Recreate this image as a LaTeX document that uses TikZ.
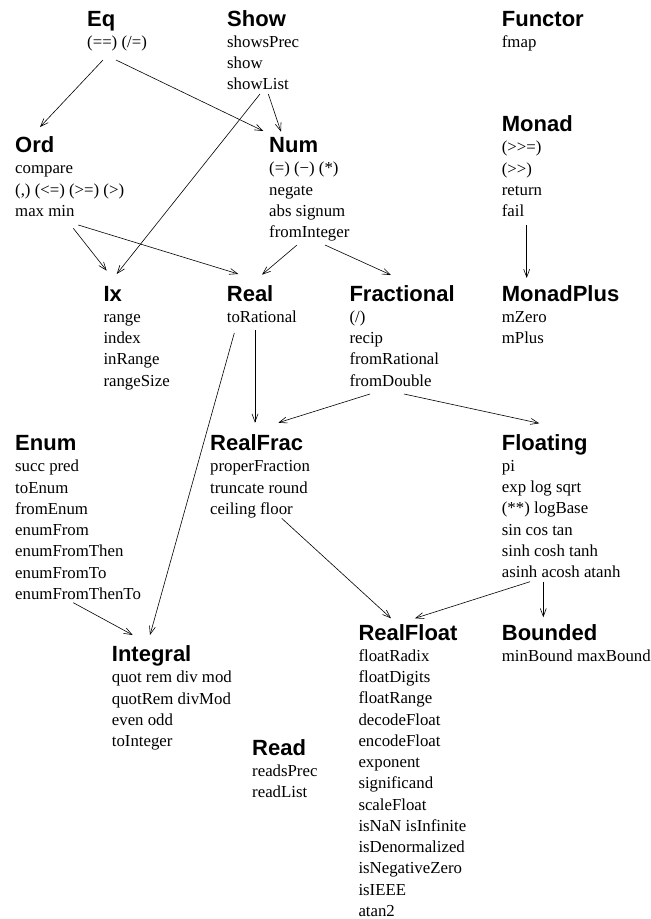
\documentclass[tikz,border=0pt]{standalone}
\usepackage{fontspec}
\setmainfont{Liberation Serif}[Ligatures=TeXOff]
\newfontfamily\clssans{Liberation Sans}
\usetikzlibrary{arrows.meta}

% class name on top, methods below, baseline = name line
\newcommand{\clsname}{\clssans\bfseries\fontsize{22}{22}\selectfont}
\newcommand{\hsclass}[2]{\vtop{\baselineskip=21.25pt\lineskiplimit=-20pt
  \halign{##\hfil\cr{\clsname #1}\cr #2\crcr}}}

\begin{document}
\begin{tikzpicture}[x=1pt,y=-1pt,
    cls/.style={anchor=base west,inner sep=0pt,
      font=\fontsize{16.8}{21.25}\selectfont},
    inh/.style={line width=0.6pt,-{Straight Barb[length=8pt,width=6pt]}}]
        \useasboundingbox (0,0) rectangle (651,919);

        % Классы
        \node[cls] (eq) at (87,26) {\hsclass{Eq}{(==) (/=)}};
        \node[cls] (show) at (227,26) {\hsclass{Show}{showsPrec\cr show\cr showList}};
        \node[cls] (functor) at (501.7,26) {\hsclass{Functor}{fmap}};
        \node[cls] (ord) at (15,152.7) {\hsclass{Ord}{compare\cr (,) (<=) (>=) (>)\cr max min}};
        \node[cls] (num) at (269,152.7) {\hsclass{Num}{(=) (−) (*)\cr negate\cr abs signum\cr fromInteger}};
        \node[cls] (monad) at (501.7,131.7) {\hsclass{Monad}{(>>=)\cr (>>)\cr return\cr fail}};
        \node[cls] (ix) at (103.3,301) {\hsclass{Ix}{range\cr index\cr inRange\cr rangeSize}};
        \node[cls] (real) at (226.7,301) {\hsclass{Real}{toRational}};
        \node[cls] (fractional) at (349.3,301) {\hsclass{Fractional}{(/)\cr recip\cr fromRational\cr fromDouble}};
        \node[cls] (monadplus) at (501.7,301) {\hsclass{MonadPlus}{mZero\cr mPlus}};
        \node[cls] (enum) at (15,450.7) {\hsclass{Enum}{succ pred\cr toEnum\cr fromEnum\cr enumFrom\cr
            enumFromThen\cr enumFromTo\cr enumFromThenTo}};
        \node[cls] (realfrac) at (210,450.7) {\hsclass{RealFrac}{properFraction\cr truncate round\cr ceiling floor}};
        \node[cls] (floating) at (501.7,450) {\hsclass{Floating}{pi\cr exp log sqrt\cr (**) logBase\cr
            sin cos tan\cr sinh cosh tanh\cr asinh acosh atanh}};
        \node[cls] (integral) at (111.7,661.7) {\hsclass{Integral}{quot rem div mod\cr quotRem divMod\cr
            even odd\cr toInteger}};
        \node[cls] (realfloat) at (358.3,640) {\hsclass{RealFloat}{floatRadix\cr floatDigits\cr floatRange\cr
            decodeFloat\cr encodeFloat\cr exponent\cr significand\cr scaleFloat\cr isNaN isInfinite\cr
            isDenormalized\cr isNegativeZero\cr isIEEE\cr atan2}};
        \node[cls] (bounded) at (501.7,640) {\hsclass{Bounded}{minBound maxBound}};
        \node[cls] (read) at (252,755) {\hsclass{Read}{readsPrec\cr readList}};

        % Наследование: откуда/сдвиг -> куда/сдвиг
        \foreach \src/\sx/\sy/\dst/\dx/\dy in {
            eq/16/34/ord/25/-25.7, eq/29/34/num/-5.7/-21.7,
            show/41.3/68/num/12/-21, show/33/68/ix/13.4/-27,
            ord/58.3/75.6/ix/3.4/-30.3, ord/63.3/72.3/real/11.6/-27,
            num/28/92.3/real/35.3/-26.3, num/56/92.3/fractional/41.7/-26,
            monad/25/93.3/monadplus/25/-23,
            real/28.3/29/realfrac/45/-28, real/7.6/32/integral/38.3/-26.7,
            fractional/20.7/93/realfrac/68.3/-28, fractional/54.7/93/floating/37.6/-26.7,
            enum/58.3/152/integral/21/-26.7,
            realfrac/71.7/67.6/realfloat/32.7/-21.7,
            floating/28.3/131.7/realfloat/56.7/-21.7, floating/41.6/131.7/bounded/41.6/-22.7}
        {
            \draw[inh] ([shift={(\sx,\sy)}]\src.base west) -- ([shift={(\dx,\dy)}]\dst.base west);
        }
    \end{tikzpicture}
\end{document}
